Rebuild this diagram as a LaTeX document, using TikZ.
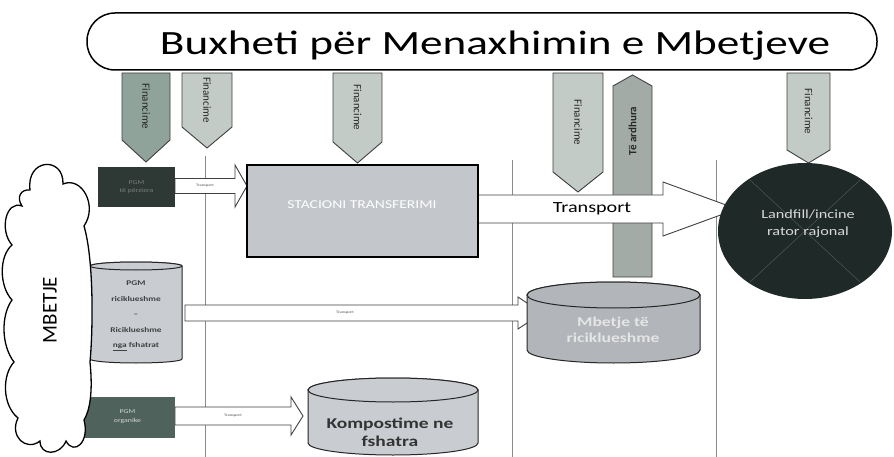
\documentclass[tikz,border=0pt]{standalone}
\usepackage{fontspec}
\setmainfont{Carlito}
\usetikzlibrary{shapes.geometric,calc}
\definecolor{finlight}{HTML}{C3CBC6}
\definecolor{findark}{HTML}{8FA39B}
\definecolor{upgray}{HTML}{A3ABA7}
\definecolor{boxgray}{HTML}{C3C6CB}
\definecolor{cylgray}{HTML}{C9CCD1}
\definecolor{cyldark}{HTML}{B2B6BA}
\definecolor{darkbox}{HTML}{2E3936}
\definecolor{greenbox}{HTML}{4F625C}
\definecolor{landfill}{HTML}{1F2927}
\definecolor{sepline}{HTML}{8A8A8A}
\newcommand{\finarr}[6]{% x1, x2, body end, tip, fill, name
  \draw[finstyle, fill=#5] (#1,73) -- (#2,73) -- (#2,#3) -- ({(#1+#2)/2},#4) -- (#1,#3) -- cycle;
  \node[fintext] (#6) at ({(#1+#2)/2},{(73+#3)/2}) {Financime};}
\newcommand{\blkarr}[7]{% x1, tip, y, shaft half, head half, head len, name
  \draw[arrowst] (#1,#3-#4) -- (#2-#6,#3-#4) -- (#2-#6,#3-#5) -- (#2,#3) -- (#2-#6,#3+#5) -- (#2-#6,#3+#4) -- (#1,#3+#4) -- cycle;
  \coordinate (#7) at ({(#1+#2-#6)/2},#3);}
\newcommand{\cylshape}[6]{% x1, x2, ytop, ybot, ry, fill
  \draw[cylst, fill=#6] (#1,#3+#5) -- (#1,#4-#5)
     arc[start angle=180,end angle=0,x radius={(#2-#1)/2},y radius=#5]
     -- (#2,#3+#5) arc[start angle=0,end angle=-180,x radius={(#2-#1)/2},y radius=#5] -- cycle;
  \draw[cylst, fill=#6] ({(#1+#2)/2},#3+#5) ellipse[x radius={(#2-#1)/2},y radius=#5];}
\begin{document}
\begin{tikzpicture}[x=1pt,y=-1pt,
  finstyle/.style={draw=black!75, line width=0.9pt},
  fintext/.style={rotate=-90, font=\fontsize{11}{12}\selectfont, text=black!85, inner sep=0pt},
  arrowst/.style={draw=black!75, fill=white, line width=0.9pt},
  tinylabel/.style={font=\fontsize{3.5}{4}\selectfont, text=black!70, inner sep=0pt, xscale=1.3},
  cylst/.style={draw=black!85, line width=1pt},
  wide/.style={xscale=1.3, inner sep=0pt, align=center},
  sep/.style={draw=sepline, line width=0.7pt}]
\useasboundingbox (0,0) rectangle (894,457);
\fill[white] (0,0) rectangle (894,457);

% separator lines
\draw[sep] (205,156) -- (205,457);
\draw[sep] (512,160) -- (512,457);
\draw[sep] (716,160) -- (716,457);

% banner
\draw[line width=1.5pt, rounded corners=28pt] (87,13) rectangle (877,70);
\node[font=\fontsize{34}{38}\selectfont, xscale=1.33, inner sep=0pt, anchor=base] (budget) at (495,55) {Buxheti për Menaxhimin e Mbetjeve};

% financing arrows
\finarr{122}{170}{140}{162}{findark}{fin1}
\finarr{182}{232}{127}{148}{finlight}{fin2}
\finarr{333}{382}{142}{163}{finlight}{fin3}
\finarr{553}{603}{172}{192}{finlight}{fin4}
\finarr{787}{830}{150}{163}{finlight}{fin6}

% income arrow (upwards)
\draw[finstyle, fill=upgray] (613,277) -- (613,86) -- (632.5,75) -- (652,86) -- (652,277) -- cycle;
\node[rotate=90, font=\fontsize{11}{12}\selectfont\bfseries, text=black!85, inner sep=0pt] (income) at (632.5,131) {Të ardhura};

% big transport arrow
\blkarr{478}{737}{209}{14}{27}{74}{trbig}
\node[wide, font=\fontsize{15.5}{17}\selectfont] (trlabel) at (592,209) {Transport};

% landfill
\node[ellipse, minimum width=174pt, minimum height=136pt, fill=landfill, inner sep=0pt] (landfill) at (805,231) {};
\draw[white!22!landfill, line width=0.5pt] (750,180) -- (860,282) (860,180) -- (750,282);
\node[wide, font=\fontsize{12.5}{17}\selectfont, text=white!85!black] (lflabel) at (808,224) {Landfill/incine\\rator rajonal};

% small transport arrows
\blkarr{175}{247}{186}{7.5}{21}{12}{tr1}
\node[tinylabel] at (tr1) {Transport};
\blkarr{185}{542}{313}{8}{16}{24}{tr2}
\node[tinylabel] at (345,313) {Transport};
\blkarr{175}{303}{416}{9}{19}{12}{tr3}
\node[tinylabel] at (tr3) {Transport};

% transfer station
\draw[fill=boxgray, line width=1.8pt] (247,165) rectangle (478,257);
\node[wide, font=\fontsize{12}{13}\selectfont, text=white] (station) at (362,205) {STACIONI TRANSFERIMI};

% top-left mixed waste box
\fill[darkbox] (98,167) rectangle (175,207);
\node[wide, font=\fontsize{6}{8}\selectfont, text=white!35!darkbox] (mixed) at (136.5,187) {PGM\\të përziera};

% bottom-left box
\fill[greenbox] (80,397) rectangle (175,438);
\node[wide, font=\fontsize{6}{9}\selectfont, text=white!75!greenbox] (organic) at (127.5,417) {PGM\\organike};

% recyclable cylinder (left)
\cylshape{90}{182}{262}{363}{4}{cylgray}
\node[wide, font=\fontsize{7.2}{15.5}\selectfont\bfseries, text=black!75] (pgmrec) at (136,316) {PGM\\riciklueshme\\–\\Riciklueshme\\\underline{nga} fshatrat};

% recyclables cylinder (right)
\cylshape{527}{700}{282}{363}{13}{cyldark}
\node[wide, font=\fontsize{13.5}{16.5}\selectfont\bfseries, text=white!90!black] (recycl) at (613,330) {Mbetje të\\riciklueshme};

% compost cylinder
\cylshape{308}{478}{378}{455}{12}{cylgray}
\node[wide, font=\fontsize{15}{18}\selectfont\bfseries, text=black!80] (compost) at (390,432) {Kompostime ne\\fshatra};

% waste cloud
\draw[line width=1.3pt, fill=white]
  (30,190) .. controls (26,158) and (64,156) .. (63,184)
  .. controls (82,176) and (98,206) .. (84,226)
  .. controls (94,260) and (93,330) .. (90,362)
  .. controls (93,392) and (90,410) .. (84,420)
  .. controls (90,442) and (74,456) .. (66,441)
  .. controls (60,456) and (40,456) .. (40,441)
  .. controls (26,452) and (9,436) .. (18,418)
  .. controls (2,405) and (2,375) .. (14,362)
  .. controls (1,345) and (1,315) .. (12,300)
  .. controls (-1,286) and (-1,256) .. (12,245)
  .. controls (-1,230) and (6,200) .. (22,206)
  .. controls (16,197) and (21,189) .. (30,190) -- cycle;
\node[rotate=90, font=\fontsize{21}{24}\selectfont, inner sep=0pt] (waste) at (50,310) {MBETJE};
\end{tikzpicture}
\end{document}
